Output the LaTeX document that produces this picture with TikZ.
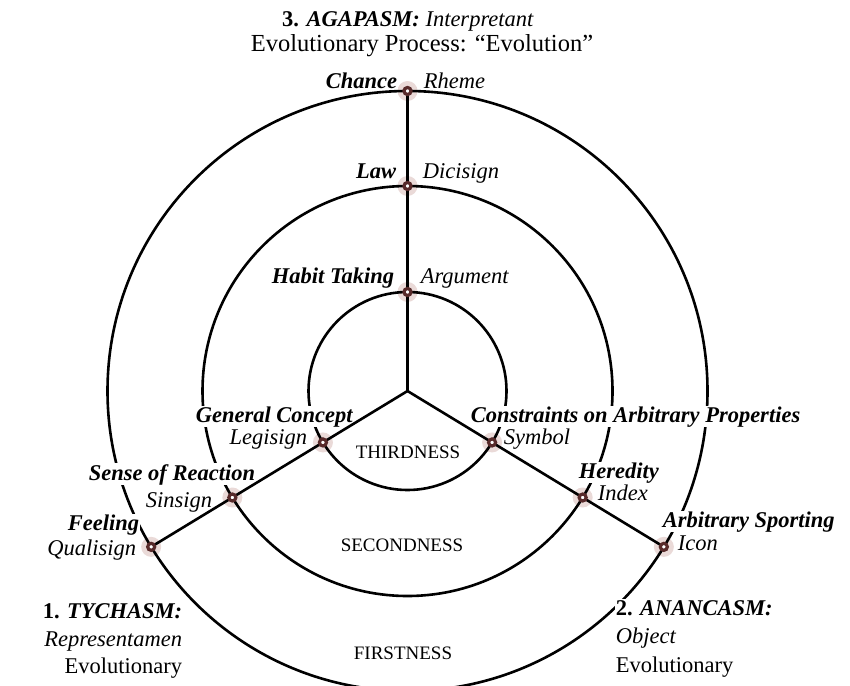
\documentclass[tikz,border=0pt]{standalone}
\usepackage{fontspec}
\setmainfont{Liberation Serif}
\definecolor{mdark}{RGB}{88,42,42}
\definecolor{halocol}{RGB}{234,218,216}
\begin{document}
\begin{tikzpicture}[x=1pt,y=-1pt,
  ring/.style={line width=2.6pt, draw=black},
  lbl/.style={font=\fontsize{22.5}{27}\selectfont, inner sep=0.8pt, outer sep=0pt, fill=white},
  bi/.style={lbl, font=\fontsize{22.5}{27}\selectfont\bfseries\itshape},
  it/.style={lbl, font=\fontsize{22.5}{27}\selectfont\itshape},
  region/.style={font=\fontsize{19}{23}\selectfont, inner sep=0pt},
  halo/.style={fill=halocol},
  marker/.style={circle, inner sep=0pt, minimum size=7pt, fill=white, draw=mdark, line width=3.2pt},
]
\useasboundingbox (0,0) rectangle (850,685);
\fill[white] (0,0) rectangle (850,685);
\clip (0,0) rectangle (850,685);

\coordinate (C) at (407.5,391);
\path (C) ++(270:300) coordinate (pChance);
\path (C) ++(270:205) coordinate (pLaw);
\path (C) ++(270:99)  coordinate (pHabit);
\path (C) ++(148.7:99)  coordinate (pGeneral);
\path (C) ++(148.7:205) coordinate (pSense);
\path (C) ++(148.7:300) coordinate (pFeeling);
\path (C) ++(31.3:99)  coordinate (pConstr);
\path (C) ++(31.3:205) coordinate (pHered);
\path (C) ++(31.3:300) coordinate (pArbit);

% halos
\foreach \p in {pChance,pLaw,pHabit,pGeneral,pSense,pFeeling,pConstr,pHered,pArbit}
  \fill[halo] (\p) circle (10);

% rings
\draw[ring] (C) circle (99);
\draw[ring] (C) circle (205);
\draw[ring] (C) circle (300);

% titles
\node[lbl, anchor=base] (t1) at (408,27) {\textbf{3. \textit{AGAPASM:}} \textit{Interpretant}};
\node[lbl, anchor=base, font=\fontsize{24.5}{29}\selectfont] (t2) at (422,52) {Evolutionary Process: “Evolution”};

% top labels
\node[bi, anchor=base east] (lChance) at (398,88) {Chance};
\node[it, anchor=base west] (lRheme) at (423,88) {Rheme};
\node[bi, anchor=base east] (lLaw) at (397,178) {Law};
\node[it, anchor=base west] (lDici) at (422,178) {Dicisign};
\node[bi, anchor=base east] (lHabit) at (395,283) {Habit Taking};
\node[it, anchor=base west] (lArg) at (420,283) {Argument};

% left labels
\node[bi, anchor=base west, text depth=4pt] (lGen) at (195,422) {General Concept};
\node[it, anchor=base east, text height=15pt] (lLegi) at (308,444) {Legisign};
\node[bi, anchor=base west, text depth=4pt] (lSense) at (88,480) {Sense of Reaction};
\node[it, anchor=base east, text height=15pt] (lSin) at (213,507) {Sinsign};
\node[bi, anchor=base east, text depth=4pt] (lFeel) at (140,530) {Feeling};
\node[it, anchor=base east, text height=15pt] (lQual) at (137,555) {Qualisign};

% right labels
\node[bi, anchor=base west, text depth=4pt] (lConstr) at (470,422) {Constraints on Arbitrary Properties};
\node[it, anchor=base west, text height=15pt] (lSym) at (503,444) {Symbol};
\node[bi, anchor=base west, text depth=4pt] (lHer) at (578,478) {Heredity};
\node[it, anchor=base west, text height=15pt] (lInd) at (597,500) {Index};
\node[bi, anchor=base west, text depth=4pt] (lArb) at (662,527) {Arbitrary Sporting};
\node[it, anchor=base west, text height=15pt] (lIcon) at (677,550) {Icon};

% region labels
\node[region] (rThird) at (408,452) {THIRDNESS};
\node[region] (rSecond) at (402,545) {SECONDNESS};
\node[region] (rFirst) at (403,653) {FIRSTNESS};

% corner blocks
\node[lbl, anchor=base east] (ty1) at (183,618) {\textbf{1. \textit{TYCHASM:}}};
\node[it, anchor=base east] (ty2) at (183,646) {Representamen};
\node[lbl, anchor=base east] (ty3) at (183,673) {Evolutionary};
\node[lbl, anchor=base west] (an1) at (615,615) {\textbf{2. \textit{ANANCASM:}}};
\node[it, anchor=base west] (an2) at (615,643) {Object};
\node[lbl, anchor=base west] (an3) at (615,672) {Evolutionary};

% radial lines
\draw[ring] (C) -- (pChance);
\draw[ring] (C) -- (pFeeling);
\draw[ring] (C) -- (pArbit);

% markers
\foreach \p in {pChance,pLaw,pHabit,pGeneral,pSense,pFeeling,pConstr,pHered,pArbit}
  \node[marker] (m\p) at (\p) {};
\end{tikzpicture}
\end{document}
